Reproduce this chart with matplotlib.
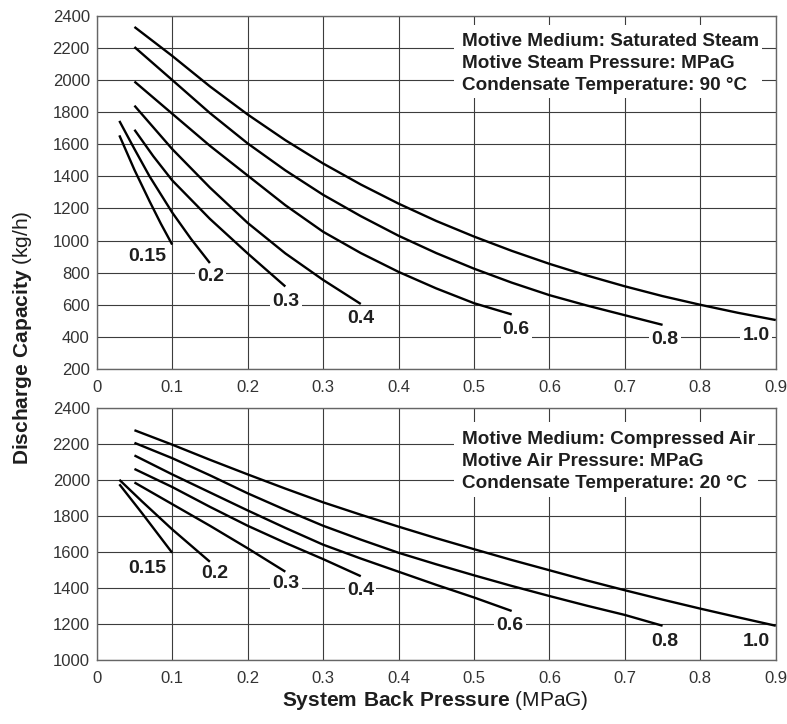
import matplotlib
matplotlib.use('Agg')
import matplotlib.pyplot as plt
from matplotlib.patches import Rectangle

plt.rcParams['font.family'] = ['Liberation Sans', 'DejaVu Sans']
plt.rcParams['mathtext.fontset'] = 'custom'
plt.rcParams['mathtext.rm'] = 'Liberation Sans'
plt.rcParams['mathtext.bf'] = 'Liberation Sans:bold'

# Do thi tren: hoi bao hoa (Saturated Steam)
steam_labels = ['0.15', '0.2', '0.3', '0.4', '0.6', '0.8', '1.0']
steam_x = [
    [0.03, 0.05, 0.07, 0.085, 0.1],
    [0.03, 0.05, 0.07, 0.1, 0.125, 0.15],
    [0.05, 0.075, 0.1, 0.15, 0.2, 0.25],
    [0.05, 0.1, 0.15, 0.2, 0.25, 0.3, 0.35],
    [0.05, 0.1, 0.15, 0.2, 0.25, 0.3, 0.35, 0.4, 0.45, 0.5, 0.55],
    [0.05, 0.1, 0.15, 0.2, 0.25, 0.3, 0.35, 0.4, 0.45, 0.5, 0.55, 0.6,
     0.65, 0.7, 0.75],
    [0.05, 0.1, 0.15, 0.2, 0.25, 0.3, 0.35, 0.4, 0.45, 0.5, 0.55, 0.6,
     0.65, 0.7, 0.75, 0.8, 0.85, 0.9],
]
steam_y = [
    [1655, 1440, 1245, 1105, 975],
    [1745, 1570, 1400, 1175, 1010, 860],
    [1690, 1525, 1375, 1135, 920, 714],
    [1840, 1570, 1330, 1110, 920, 755, 605],
    [1990, 1790, 1590, 1405, 1220, 1055, 922, 805, 702, 610, 540],
    [2205, 2000, 1794, 1605, 1437, 1285, 1152, 1030, 922, 825, 738, 660,
     595, 535, 475],
    [2330, 2150, 1960, 1785, 1625, 1480, 1349, 1230, 1122, 1025, 936, 855,
     782, 715, 654, 600, 550, 505],
]
steam_label_x = [0.067, 0.151, 0.251, 0.350, 0.556, 0.753, 0.874]
steam_label_y = [898, 774, 622, 514, 446, 384, 409]
steam_notes = ['Motive Medium: Saturated Steam',
               'Motive Steam Pressure: MPaG',
               'Condensate Temperature: 90 \u00b0C']

# Do thi duoi: khi nen (Compressed Air)
air_labels = ['0.15', '0.2', '0.3', '0.4', '0.6', '0.8', '1.0']
air_x = [
    [0.03, 0.06, 0.1],
    [0.03, 0.06, 0.1, 0.15],
    [0.05, 0.1, 0.15, 0.2, 0.25],
    [0.05, 0.1, 0.15, 0.2, 0.25, 0.3, 0.35],
    [0.05, 0.1, 0.15, 0.2, 0.25, 0.3, 0.35, 0.4, 0.45, 0.5, 0.55],
    [0.05, 0.1, 0.15, 0.2, 0.25, 0.3, 0.35, 0.4, 0.45, 0.5, 0.55, 0.6,
     0.65, 0.7, 0.75],
    [0.05, 0.1, 0.15, 0.2, 0.25, 0.3, 0.35, 0.4, 0.45, 0.5, 0.55, 0.6,
     0.65, 0.7, 0.75, 0.8, 0.85, 0.9],
]
air_y = [
    [1975, 1815, 1595],
    [2000, 1880, 1725, 1545],
    [1985, 1865, 1745, 1620, 1490],
    [2060, 1960, 1850, 1745, 1650, 1560, 1465],
    [2135, 2030, 1930, 1830, 1733, 1640, 1563, 1490, 1417, 1347, 1272],
    [2205, 2120, 2025, 1925, 1833, 1745, 1668, 1595, 1531, 1470, 1411,
     1355, 1301, 1250, 1190],
    [2275, 2195, 2111, 2030, 1951, 1875, 1806, 1740, 1676, 1615, 1555,
     1498, 1441, 1387, 1335, 1285, 1237, 1190],
]
air_label_x = [0.067, 0.157, 0.251, 0.350, 0.548, 0.753, 0.874]
air_label_y = [1508, 1480, 1424, 1387, 1189, 1100, 1100]
air_notes = ['Motive Medium: Compressed Air',
             'Motive Air Pressure: MPaG',
             'Condensate Temperature: 20 \u00b0C']

x_ticks = [0, 0.1, 0.2, 0.3, 0.4, 0.5, 0.6, 0.7, 0.8, 0.9]
x_tick_labels = ['0', '0.1', '0.2', '0.3', '0.4', '0.5', '0.6', '0.7', '0.8', '0.9']
steam_y_ticks = list(range(200, 2401, 200))
air_y_ticks = list(range(1000, 2401, 200))


def VeDoThi(ax, xs, ys, labels, lx, ly, notes, yticks, box, note_y):
    ax.set_xlim(0, 0.9)
    ax.set_ylim(yticks[0], yticks[-1])
    ax.set_xticks(x_ticks)
    ax.set_xticklabels(x_tick_labels)
    ax.set_yticks(yticks)
    ax.grid(True, color='#3c3c3c', linewidth=0.8)
    ax.set_axisbelow(True)
    ax.tick_params(length=0, labelsize=12, labelcolor='#333333', pad=5)
    ax.tick_params(axis='x', pad=8)
    for s in ax.spines.values():
        s.set_color('#666666')
        s.set_linewidth(1.0)

    for x, y in zip(xs, ys):
        ax.plot(x, y, color='black', linewidth=1.7, zorder=3,
                solid_capstyle='butt', solid_joinstyle='round')

    for t, x, y in zip(labels, lx, ly):
        ax.text(x, y, t, ha='center', va='center', fontsize=14,
                fontweight='bold', color='#1e1e1e', zorder=4,
                bbox=dict(facecolor='white', edgecolor='none', pad=1.5))

    # o trang che luoi phia sau chu thich
    ax.add_patch(Rectangle((box[0], box[1]), box[2] - box[0], box[3] - box[1],
                           facecolor='white', edgecolor='none', zorder=2))
    for t, y in zip(notes, note_y):
        ax.text(0.484, y, t, ha='left', va='baseline', fontsize=13.6,
                fontweight='bold', color='#1e1e1e', zorder=4)


fig = plt.figure(figsize=(7.87, 7.24), dpi=100)
ax1 = fig.add_axes([0.1229, 0.4903, 0.8628, 0.4880])
ax2 = fig.add_axes([0.1229, 0.0884, 0.8628, 0.3485])

VeDoThi(ax1, steam_x, steam_y, steam_labels, steam_label_x, steam_label_y,
        steam_notes, steam_y_ticks, (0.473, 1888, 0.882, 2342),
        [2213, 2074, 1940])
VeDoThi(ax2, air_x, air_y, air_labels, air_label_x, air_label_y,
        air_notes, air_y_ticks, (0.473, 1906, 0.876, 2322),
        [2199, 2077, 1953])

fig.text(0.029, 0.533, r'$\mathbf{Discharge\ Capacity}$ (kg/h)',
         rotation=90, ha='center', va='center', fontsize=15, color='#1e1e1e')
fig.text(0.553, 0.0249, r'$\mathbf{System\ Back\ Pressure}$ (MPaG)',
         ha='center', va='baseline', fontsize=15, color='#1e1e1e')

fig.savefig('out.png', dpi=100)
